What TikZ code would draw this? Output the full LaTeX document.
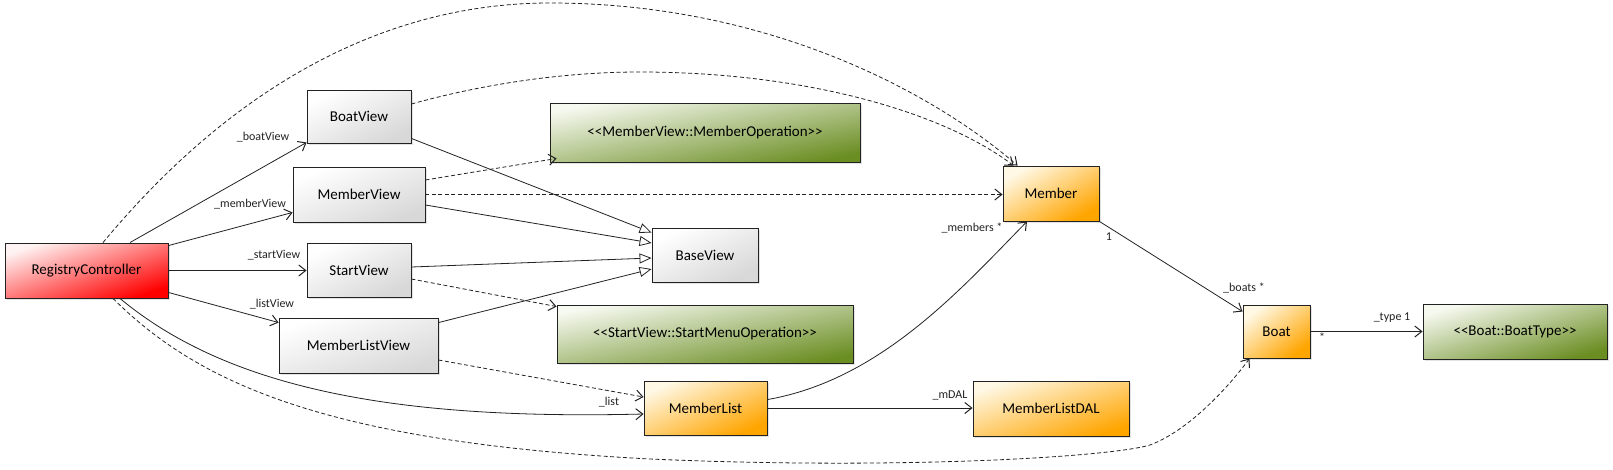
\documentclass[tikz,border=0pt]{standalone}
\usepackage{fontspec}
\setmainfont{Carlito}[Ligatures=TeXOff]
\usetikzlibrary{arrows.meta,shadows,calc}
\definecolor{grayA}{HTML}{FFFFFF}
\definecolor{grayB}{HTML}{D8D8D8}
\definecolor{redA}{HTML}{FFF2F2}
\definecolor{redB}{HTML}{FF0000}
\definecolor{orangeA}{HTML}{FFF8E4}
\definecolor{orangeB}{HTML}{FFA500}
\definecolor{greenA}{HTML}{F6F9F0}
\definecolor{greenB}{HTML}{6B8E23}
\definecolor{inkcol}{HTML}{222222}
\tikzset{
  umlbox/.style={draw=inkcol, line width=0.9pt, inner sep=0pt,
    font=\fontsize{15}{18}\selectfont,
    drop shadow={opacity=0.22, shadow xshift=2pt, shadow yshift=-2pt}},
  grayfill/.style={top color=grayA, bottom color=grayB, shading angle=#1},
  redfill/.style={top color=redA, bottom color=redB, shading angle=#1},
  orangefill/.style={top color=orangeA, bottom color=orangeB, shading angle=#1},
  greenfill/.style={top color=greenA, bottom color=greenB, shading angle=#1},
  assoc/.style={draw=inkcol, line width=0.8pt, -{Straight Barb[length=7pt,width=11pt,line width=1pt]}},
  depend/.style={assoc, dashed, dash pattern=on 4pt off 2.5pt},
  general/.style={draw=inkcol, line width=0.8pt, -{Triangle[open,length=12pt,width=10pt,line width=0.8pt]}},
  lbl/.style={font=\fontsize{12}{14}\selectfont, inner sep=0pt, text=inkcol}
}
\begin{document}
\begin{tikzpicture}[x=1pt,y=-1pt]
\useasboundingbox (0,0) rectangle (1613,469);

% nodes
\node[umlbox, redfill=19, minimum width=163pt, minimum height=55pt] (rc) at (86.5,270.5) {RegistryController};
\node[umlbox, grayfill=27, minimum width=104pt, minimum height=53pt] (boatview) at (359,116.5) {BoatView};
\node[umlbox, grayfill=23, minimum width=132pt, minimum height=55pt] (memberview) at (359,194.5) {MemberView};
\node[umlbox, grayfill=27, minimum width=104pt, minimum height=54pt] (startview) at (359,270) {StartView};
\node[umlbox, grayfill=19, minimum width=159pt, minimum height=55pt] (mlview) at (358.5,345.5) {MemberListView};
\node[umlbox, greenfill=11, minimum width=310pt, minimum height=59pt] (memberop) at (705,132.5) {<\kern0pt<MemberView::MemberOperation>\kern0pt>};
\node[umlbox, grayfill=27, minimum width=106pt, minimum height=54pt] (baseview) at (705,255) {BaseView};
\node[umlbox, greenfill=11, minimum width=296pt, minimum height=58pt] (startop) at (705,334) {<\kern0pt<StartView::StartMenuOperation>\kern0pt>};
\node[umlbox, orangefill=30, minimum width=96pt, minimum height=55pt] (member) at (1051,193.5) {Member};
\node[umlbox, orangefill=38, minimum width=67pt, minimum height=53pt] (boat) at (1276.5,331.5) {Boat};
\node[umlbox, greenfill=17, minimum width=184pt, minimum height=55pt] (boattype) at (1515,331.5) {<\kern0pt<Boat::BoatType>\kern0pt>};
\node[umlbox, orangefill=24, minimum width=123pt, minimum height=54pt] (memberlist) at (705.5,408) {MemberList};
\node[umlbox, orangefill=19, minimum width=156pt, minimum height=55pt] (mldal) at (1051,408.5) {MemberListDAL};

% associations from RegistryController
\draw[assoc] ($(rc.north)+(43.5,0)$) -- ($(boatview.south west)+(0,-1)$);
\draw[assoc] ($(rc.north east)+(0,3)$) -- ($(memberview.south west)+(0,-10)$);
\draw[assoc] (rc.east) -- (rc.east -| startview.west);
\draw[assoc] ($(rc.south east)+(0,-6)$) -- ($(mlview.north west)+(0,5)$);
\draw[assoc] ($(rc.south)+(33.5,0)$) .. controls (230,390) and (400,420) .. ($(memberlist.west)+(0,6)$);

% generalizations to BaseView
\draw[general] ($(boatview.south east)+(0,-5)$) -- ($(baseview.north west)+(0,5)$);
\draw[general] ($(memberview.east)+(0,10.5)$) -- ($(baseview.west)+(0,-12)$);
\draw[general] ($(startview.east)+(0,-3)$) -- ($(baseview.west)+(0,3)$);
\draw[general] ($(mlview.north east)+(0,5)$) -- ($(baseview.west)+(0,14)$);

% dependencies
\draw[depend] ($(memberview.east)+(0,-14.5)$) -- ($(memberop.south west)+(7,-4)$);
\draw[depend] (memberview.east) -- (memberview.east -| member.west);
\draw[depend] ($(startview.east)+(0,9)$) -- ($(startop.north west)+(0,2)$);
\draw[depend] ($(mlview.east)+(0,14.5)$) -- ($(memberlist.west)+(0,-11)$);
\draw[depend] ($(boatview.east)+(0,-12.5)$) .. controls (480,85) and (560,72) .. (640,72)
   .. controls (800,72) and (940,110) .. ($(member.north west)+(11,0)$);
\draw[depend] ($(rc.north)+(16.5,0)$) .. controls (180,150) and (330,3) .. (550,3)
   .. controls (765,3) and (930,90) .. ($(member.north west)+(15,0)$);
\draw[depend] ($(rc.south)+(26.5,0)$) .. controls (200,385) and (330,442) .. (650,459)
   .. controls (900,470) and (1110,457) .. (1150,445)
   .. controls (1190,430) and (1230,385) .. ($(boat.south west)+(7,0)$);

% other associations
\draw[assoc] ($(memberlist.north east)+(0,19)$) .. controls (880,380) and (960,290) .. ($(member.south)+(-24,0)$);
\draw[assoc] (memberlist.east) -- (memberlist.east -| mldal.west);
\draw[assoc] (member.south east) -- ($(boat.north west)+(0,7)$);
\draw[assoc] (boat.east) -- (boattype.west);

% labels
\node[lbl] (l1) at (263,137) {\_boatView};
\node[lbl] (l2) at (250,204) {\_memberView};
\node[lbl] (l3) at (274,255) {\_startView};
\node[lbl] (l4) at (272,304) {\_listView};
\node[lbl] (l5) at (609,402) {\_list};
\node[lbl] (l6) at (972,228) {\_members *};
\node[lbl] (l7) at (950,395) {\_mDAL};
\node[lbl] (l8) at (1109,237) {1};
\node[lbl] (l9) at (1244,288) {\_boats *};
\node[lbl] (l10) at (1392,318) {\_type 1};
\node[lbl] (l11) at (1322,337) {*};
\end{tikzpicture}
\end{document}
